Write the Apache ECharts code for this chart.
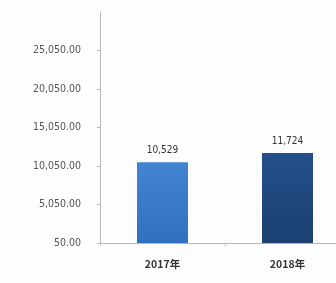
<!DOCTYPE html>
<html>
<head>
<meta charset="utf-8">
<script src="https://cdn.jsdelivr.net/npm/echarts@6/dist/echarts.min.js"></script>
<style>
html,body{margin:0;padding:0;background:#fdfdfd;overflow:hidden;width:336px;height:283px;}
#c{width:350px;height:283px;}
</style>
</head>
<body>
<div id="c"></div>
<script>
var categories = ['2017年', '2018年'];
var values = [10529, 11724];
var barColors = [['#4384d2', '#3170be'], ['#23508a', '#1b3f70']];
var yMin = 50, yMax = 30050, yInterval = 5000;

var chart = echarts.init(document.getElementById('c'), null, {renderer: 'canvas'});
chart.setOption({
  backgroundColor: '#fdfdfd',
  animation: false,
  grid: {left: 100, right: 0, top: 12, bottom: 40},
  xAxis: {
    type: 'category',
    data: categories,
    axisLine: {lineStyle: {color: '#b8b8b8'}},
    axisTick: {show: true, length: 3, lineStyle: {color: '#c8c8c8'}},
    axisLabel: {color: '#333', fontSize: 10.5, fontWeight: 'bold', margin: 16, fontFamily: 'Noto Sans CJK SC'}
  },
  yAxis: {
    type: 'value',
    min: yMin, max: yMax, interval: yInterval,
    axisLine: {show: true, lineStyle: {color: '#b8b8b8'}},
    axisTick: {show: true, length: 3, lineStyle: {color: '#b8b8b8'}},
    splitLine: {show: false},
    axisLabel: {
      color: '#555', fontSize: 10.5, margin: 19, fontFamily: 'DejaVu Sans Condensed',
      showMaxLabel: false,
      formatter: function (v) {
        return v.toLocaleString('en-US', {minimumFractionDigits: 2, maximumFractionDigits: 2});
      }
    }
  },
  series: [{
    type: 'bar',
    barWidth: 51,
    data: values.map(function (v, i) {
      return {
        value: v,
        itemStyle: {
          color: new echarts.graphic.LinearGradient(0, 0, 0, 1, [
            {offset: 0, color: barColors[i][0]},
            {offset: 1, color: barColors[i][1]}
          ])
        }
      };
    }),
    label: {
      show: true, position: 'top', distance: 7, color: '#333', fontSize: 10,
      fontFamily: 'DejaVu Sans Condensed',
      formatter: function (p) { return p.value.toLocaleString('en-US'); }
    }
  }]
});
</script>
</body>
</html>
